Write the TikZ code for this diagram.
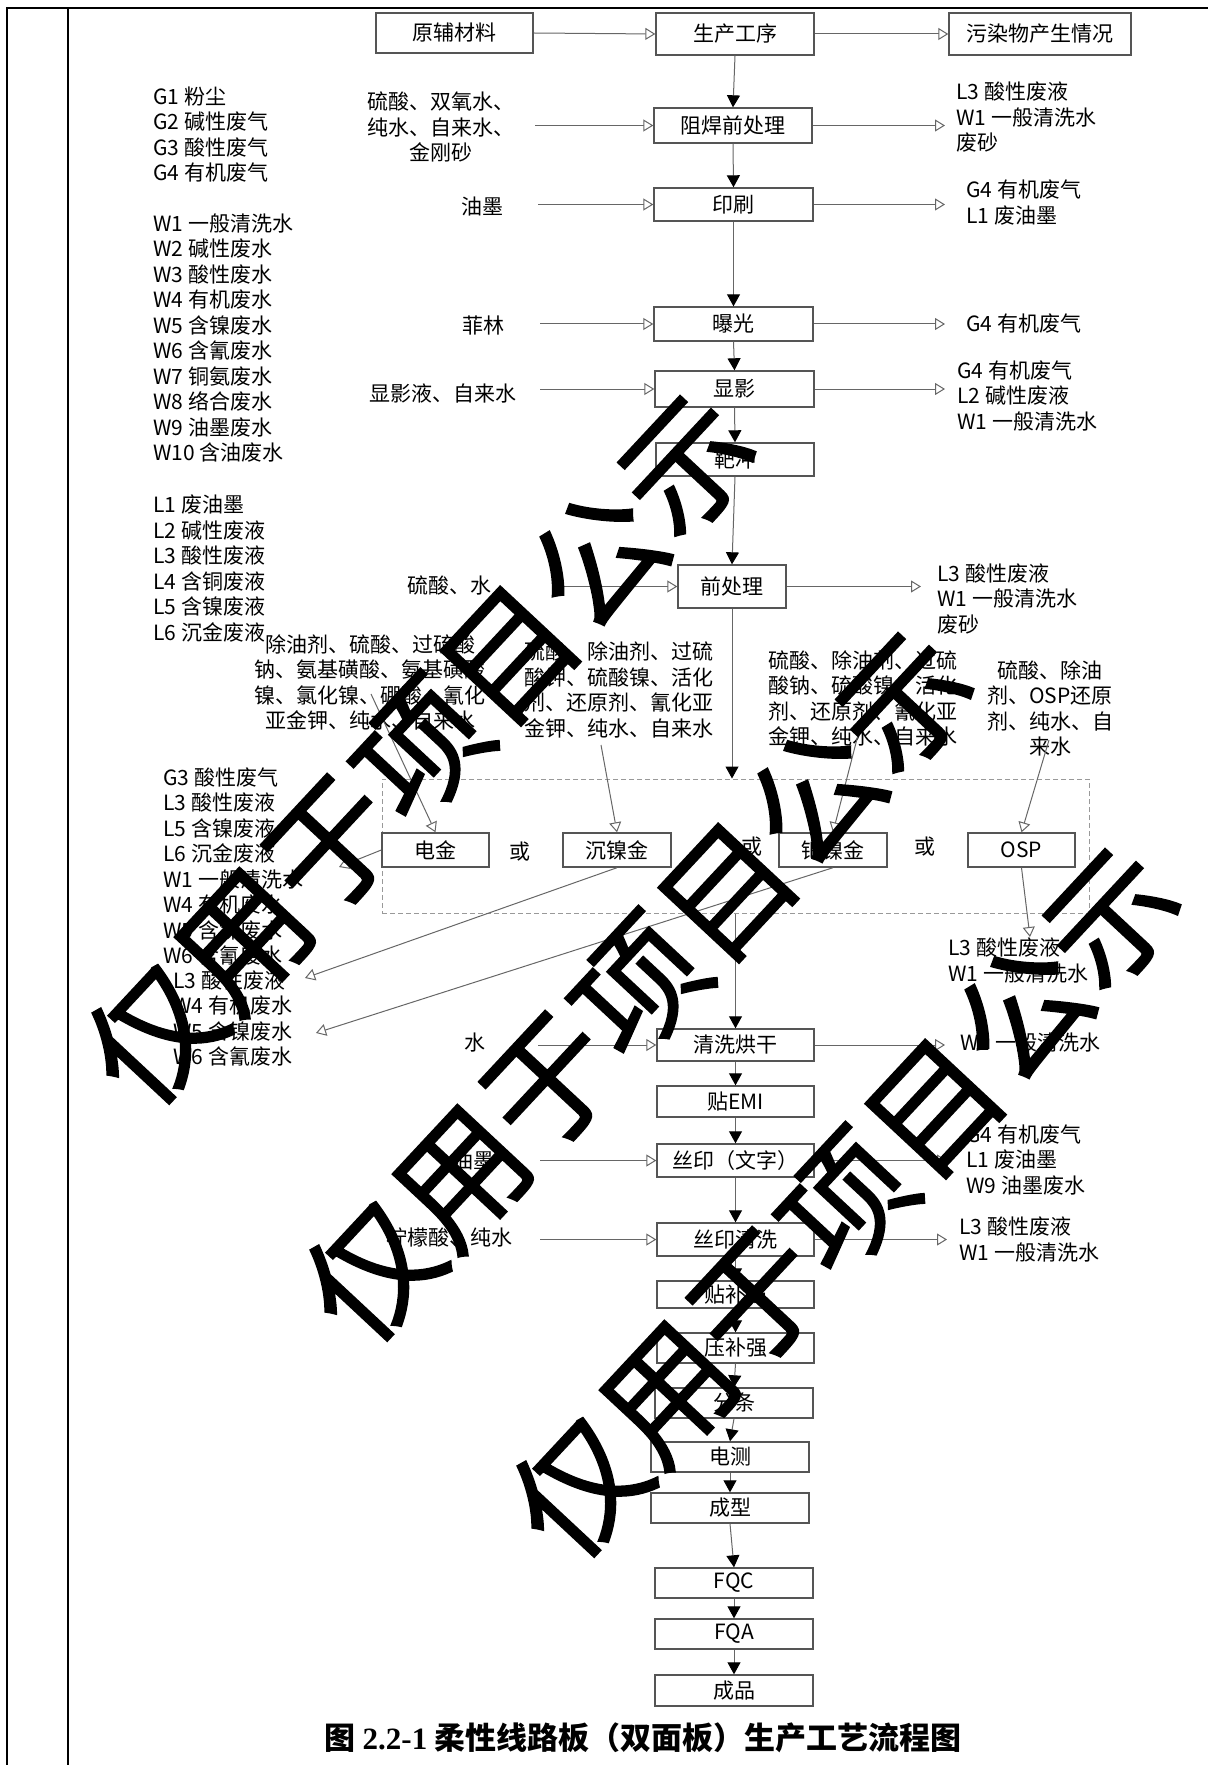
\documentclass[tikz,border=0pt]{standalone}
\usepackage{fontspec}
\setmainfont{Noto Sans CJK SC}
\newfontfamily\capnum{Liberation Serif}
\newfontfamily\wmfont{Noto Sans CJK SC}[FakeBold=1.2]
\usetikzlibrary{arrows.meta,calc}
\definecolor{bgray}{HTML}{555555}
\definecolor{lgray}{HTML}{666666}
\definecolor{dgray}{HTML}{999999}
\begin{document}
\begin{tikzpicture}[x=0.5pt,y=-0.5pt,
  lbl/.style={inner sep=0pt, font=\fontsize{10.5}{12.75}\selectfont},
  box/.style 2 args={draw=bgray, line width=0.7pt, inner sep=0pt,
     minimum width=#1*0.5pt, minimum height=#2*0.5pt,
     font=\fontsize{10.5}{12.75}\selectfont},
  flow/.style={draw=lgray, line width=0.5pt, -{Triangle[width=6.5pt,length=6pt,color=black]}},
  side/.style={draw=lgray, line width=0.5pt, -{Triangle[open,width=6pt,length=5pt,fill=white]}},
  wm/.style={inner sep=0pt, rotate=47, font=\wmfont\fontsize{65}{65}\selectfont}
]
\useasboundingbox (0,0) rectangle (1208,1765);
% frame
\draw[line width=1.2pt] (7,1765) -- (7,8) -- (1208,8);
\draw[line width=1.2pt] (68,8) -- (68,1765);

% header boxes
\node[box={157}{40}] (yuan) at (454.5,33) {原辅材料};
\node[box={158}{42}] (sc) at (735,34) {生产工序};
\node[box={182}{42}] (wr) at (1040,34) {污染物产生情况};

% main process boxes
\node[box={158}{35}] (zh) at (733,125.5) {阻焊前处理};
\node[box={159}{33}] (ys) at (733.5,204.5) {印刷};
\node[box={159}{34}] (bg) at (733.5,324) {曝光};
\node[box={159}{36}] (xy) at (734.5,389) {显影};
\node[box={158}{33}] (bc) at (735,459.5) {靶冲};
\node[box={108}{43}] (qcl) at (732,586.5) {前处理};

% dashed group
\node[draw=dgray, line width=0.5pt, dash pattern=on 2.5pt off 1.5pt, inner sep=0pt,
      minimum width=353.5pt, minimum height=67pt] (grp) at (735.5,846) {};
\node[box={107}{34}] (dj) at (435.5,850) {电金};
\node[box={108}{34}] (cnj) at (617,850) {沉镍金};
\node[box={108}{34}] (bnj) at (833,850) {钯镍金};
\node[box={107}{34}] (osp) at (1021.5,850) {OSP};
\node[lbl] (or1) at (520,852) {或};
\node[lbl] (or2) at (752,847) {或};
\node[lbl] (or3) at (925,847) {或};

\node[box={157}{32}] (qxhg) at (735.5,1045) {清洗烘干};
\node[box={157}{31}] (emi) at (735.5,1101.5) {贴EMI};
\node[box={157}{33}] (sy) at (735.5,1160.5) {丝印（文字）};
\node[box={157}{33}] (syqx) at (735.5,1239.5) {丝印清洗};
\node[box={157}{27}] (tbq) at (735.5,1294.5) {贴补强};
\node[box={157}{30}] (ybq) at (735.5,1348) {压补强};
\node[box={158}{30}] (ft) at (734,1403) {分条};
\node[box={158}{30}] (dc) at (730,1457) {电测};
\node[box={158}{30}] (cx) at (730,1508) {成型};
\node[box={158}{30}] (fqc) at (734,1583) {FQC};
\node[box={158}{30}] (fqa) at (734,1634) {FQA};
\node[box={158}{31}] (cp) at (734,1690.5) {成品};

% left inputs
\node[lbl, align=center, anchor=east] (in1) at (515,127) {硫酸、双氧水、\\纯水、自来水、\\金刚砂};
\node[lbl, anchor=east] (in2) at (504,207) {油墨};
\node[lbl, anchor=east] (in3) at (505,325) {菲林};
\node[lbl, anchor=east] (in4) at (517,393) {显影液、自来水};
\node[lbl, anchor=east] (in5) at (492,585) {硫酸、水};
\node[lbl, anchor=east] (in6) at (486,1043) {水};
\node[lbl, anchor=east] (in7) at (495,1160) {油墨};
\node[lbl, anchor=east] (in8) at (513,1237) {柠檬酸、纯水};

% right outputs
\node[lbl, align=left, anchor=west] (out1) at (956,117.5) {L3 酸性废液\\W1 一般清洗水\\废砂};
\node[lbl, align=left, anchor=west] (out2) at (966,202.5) {G4 有机废气\\L1 废油墨};
\node[lbl, align=left, anchor=west] (out3) at (966,324) {G4 有机废气};
\node[lbl, align=left, anchor=west] (out4) at (957,396) {G4 有机废气\\L2 碱性废液\\W1 一般清洗水};
\node[lbl, align=left, anchor=west] (out5) at (937,599) {L3 酸性废液\\W1 一般清洗水\\废砂};
\node[lbl, align=left, anchor=west] (out6) at (948,960.5) {L3 酸性废液\\W1 一般清洗水};
\node[lbl, align=left, anchor=west] (out7) at (960,1043) {W1 一般清洗水};
\node[lbl, align=left, anchor=west] (out8) at (966,1160) {G4 有机废气\\L1 废油墨\\W9 油墨废水};
\node[lbl, align=left, anchor=west] (out9) at (959,1239.5) {L3 酸性废液\\W1 一般清洗水};

% legends
\node[lbl, align=left, anchor=west] (legG) at (153,134.5) {G1 粉尘\\G2 碱性废气\\G3 酸性废气\\G4 有机废气};
\node[lbl, align=left, anchor=west] (legW) at (153,338) {W1 一般清洗水\\W2 碱性废水\\W3 酸性废水\\W4 有机废水\\W5 含镍废水\\W6 含氰废水\\W7 铜氨废水\\W8 络合废水\\W9 油墨废水\\W10 含油废水};
\node[lbl, align=left, anchor=west] (legL) at (153,568.5) {L1 废油墨\\L2 碱性废液\\L3 酸性废液\\L4 含铜废液\\L5 含镍废液\\L6 沉金废液};
\node[lbl, align=left, anchor=west] (leg2) at (163,866.5) {G3 酸性废气\\L3 酸性废液\\L5 含镍废液\\L6 沉金废液\\W1 一般清洗水\\W4 有机废水\\W5 含镍废水\\W6 含氰废水};
\node[lbl, align=left, anchor=west] (leg3) at (173,1018.5) {L3 酸性废液\\W4 有机废水\\W5 含镍废水\\W6 含氰废水};

% material blocks
\node[lbl, align=center] (m1) at (370,682.5) {除油剂、硫酸、过硫酸\\钠、氨基磺酸、氨基磺酸\\镍、氯化镍、硼酸、氰化\\亚金钾、纯水、自来水};
\node[lbl, align=center] (m2) at (618.5,690) {硫酸、除油剂、过硫\\酸钾、硫酸镍、活化\\剂、还原剂、氰化亚\\金钾、纯水、自来水};
\node[lbl, align=center] (m3) at (863,698.5) {硫酸、除油剂、过硫\\酸钠、硫酸镍、活化\\剂、还原剂、氰化亚\\金钾、纯水、自来水};
\node[lbl, align=center] (m4) at (1050,708.5) {硫酸、除油\\剂、OSP还原\\剂、纯水、自\\来水};

% named free ends
\coordinate (s1) at (371,694);
\coordinate (s2) at (601,745);
\coordinate (s3) at (858,735);
\coordinate (s4) at (1049,740);
\coordinate (t1) at (339,867);
\coordinate (t2) at (305,978);
\coordinate (t3) at (316,1033);
\coordinate (t4) at (1030,937);

% header arrows
\draw[side] (yuan.east) -- (sc.west);
\draw[side] (sc.east) -- (wr.west);

% main flow
\draw[flow] (sc.south) -- (zh.north);
\draw[flow] (zh.south) -- (ys.north);
\draw[flow] (ys.south) -- (bg.north);
\draw[flow] (bg.south) -- (xy.north);
\draw[flow] (xy.south) -- (bc.north);
\draw[flow] (bc.south) -- (qcl.north);
\draw[flow] (qcl.south) -- (qcl.south |- grp.north);
\draw[flow] (grp.south) -- (qxhg.north);
\draw[flow] (qxhg.south) -- (emi.north);
\draw[flow] (emi.south) -- (sy.north);
\draw[flow] (sy.south) -- (syqx.north);
\draw[flow] (syqx.south) -- (tbq.north);
\draw[flow] (tbq.south) -- (ybq.north);
\draw[flow] (ybq.south) -- (ft.north);
\draw[flow] (ft.south) -- (dc.north);
\draw[flow] (dc.south) -- (cx.north);
\draw[flow] (cx.south) -- (fqc.north);
\draw[flow] (fqc.south) -- (fqa.north);
\draw[flow] (fqa.south) -- (cp.north);

% input arrows
\draw[side] ($(in1.east |- zh.west)+(10pt,0)$) -- (zh.west);
\draw[side] ($(in2.east |- ys.west)+(17pt,0)$) -- (ys.west);
\draw[side] ($(in3.east |- bg.west)+(17.5pt,0)$) -- (bg.west);
\draw[side] ($(in4.east |- xy.west)+(11.5pt,0)$) -- (xy.west);
\draw[side] ($(in5.east |- qcl.west)+(31.5pt,0)$) -- (qcl.west);
\draw[side] ($(in6.east |- qxhg.west)+(26pt,0)$) -- (qxhg.west);
\draw[side] ($(in7.east |- sy.west)+(22.5pt,0)$) -- (sy.west);
\draw[side] ($(in8.east |- syqx.west)+(13.5pt,0)$) -- (syqx.west);

% output arrows
\draw[side] (zh.east) -- ($(zh.east -| out1.west)+(-5.5pt,0)$);
\draw[side] (ys.east) -- ($(ys.east -| out2.west)+(-10.5pt,0)$);
\draw[side] (bg.east) -- ($(bg.east -| out3.west)+(-10.5pt,0)$);
\draw[side] (xy.east) -- ($(xy.east -| out4.west)+(-6pt,0)$);
\draw[side] (qcl.east) -- ($(qcl.east -| out5.west)+(-8pt,0)$);
\draw[side] (qxhg.east) -- ($(qxhg.east -| out7.west)+(-7.5pt,0)$);
\draw[side] (sy.east) -- ($(sy.east -| out8.west)+(-9.5pt,0)$);
\draw[side] (syqx.east) -- ($(syqx.east -| out9.west)+(-6pt,0)$);

% plating branch arrows
\draw[side] (s1) -- (dj.north);
\draw[side] (s2) -- (cnj.north);
\draw[side] (s3) -- (bnj.north);
\draw[side] (s4) -- (osp.north);
\draw[side] (dj.west) -- (t1);
\draw[side] (cnj.south) -- (t2);
\draw[side] (bnj.south) -- (t3);
\draw[side] (osp.south) -- (t4);

% caption
\node[inner sep=0pt, font=\bfseries\fontsize{15.5}{15.5}\selectfont] (cap) at (643,1738)
  {图 {\capnum\bfseries 2.2-1} 柔性线路板（双面板）生产工艺流程图};

% watermark
\node[wm] (wm1) at (420,749) {仅用于项目公示};
\node[wm] (wm2) at (638,986) {仅用于项目公示};
\node[wm] (wm3) at (845,1202) {仅用于项目公示};
\end{tikzpicture}
\end{document}
